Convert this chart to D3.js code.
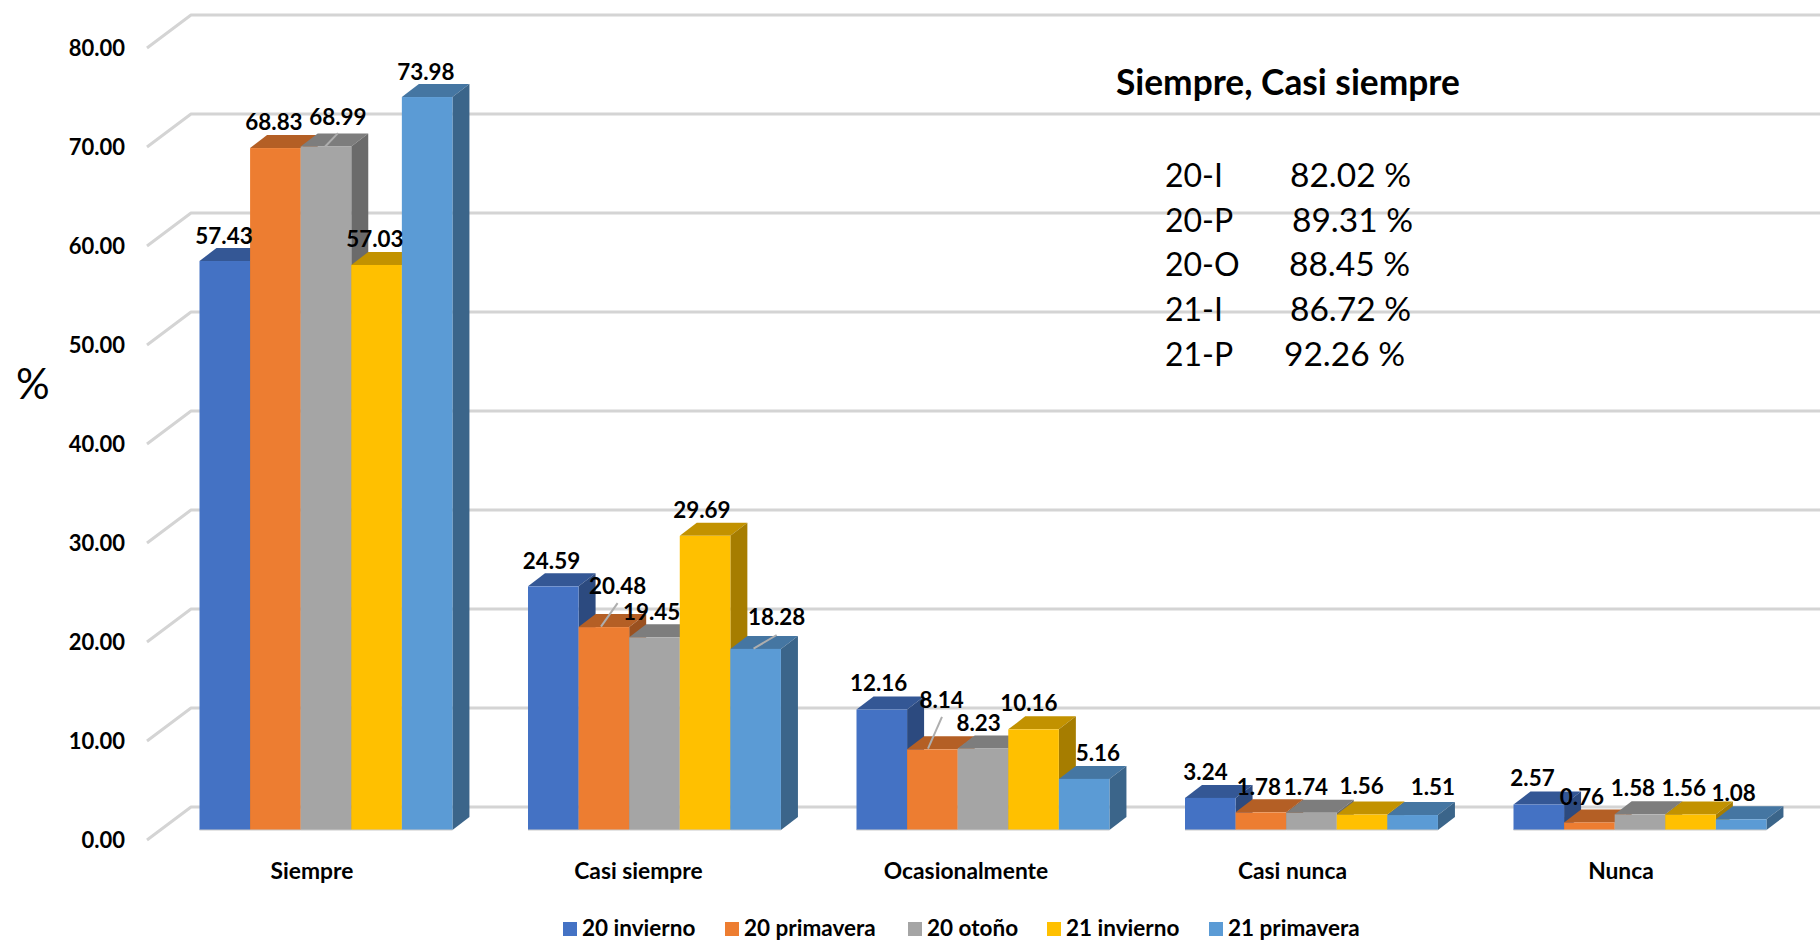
<!DOCTYPE html>
<html lang="es">
<head>
<meta charset="utf-8">
<script src="https://cdn.jsdelivr.net/npm/d3@7/dist/d3.min.js"></script>
<style>
html,body{margin:0;padding:0;background:#fff;overflow:hidden}
svg{display:block}
text{font-family:Lato,"Open Sans",sans-serif;fill:#000}
</style>
</head>
<body>
<svg id="chart" width="1820" height="940"></svg>
<script>
// ---- data ----
const categories = ["Siempre", "Casi siempre", "Ocasionalmente", "Casi nunca", "Nunca"];
const seriesNames = ["20 invierno", "20 primavera", "20 otoño", "21 invierno", "21 primavera"];
const invierno20 = [57.43, 24.59, 12.16, 3.24, 2.57];
const primavera20 = [68.83, 20.48, 8.14, 1.78, 0.76];
const otono20 = [68.99, 19.45, 8.23, 1.74, 1.58];
const invierno21 = [57.03, 29.69, 10.16, 1.56, 1.56];
const primavera21 = [73.98, 18.28, 5.16, 1.51, 1.08];
const seriesColors = ["#4472C4", "#ED7D31", "#A5A5A5", "#FFC000", "#5B9BD5"];
const yTicks = [0, 10, 20, 30, 40, 50, 60, 70, 80];
const noteTitle = "Siempre, Casi siempre";
const notePeriods = ["20-I", "20-P", "20-O", "21-I", "21-P"];
const noteValues = ["82.02 %", "89.31 %", "88.45 %", "86.72 %", "92.26 %"];
const seriesValues = [invierno20, primavera20, otono20, invierno21, primavera21];

// ---- layout ----
const svg = d3.select("#chart");
const depthX = 17, depthY = 13;
const yBar  = d3.scaleLinear().domain([0, 80]).range([830, 37.4]);   // front plane of the bars
const yWall = d3.scaleLinear().domain([0, 80]).range([807, 15]);     // back wall
const yAxis = d3.scaleLinear().domain([0, 80]).range([840, 48]);     // front edge of the side wall
const xGroup = d3.scaleBand().domain(categories).range([199.5, 199.5 + 328.5 * 4.77]).paddingInner(0.23).paddingOuter(0);
const xSeries = d3.scaleBand().domain(seriesNames).range([0, xGroup.bandwidth()]);

// hand-placed label offsets (dx, dy from the top centre of each bar), rows follow the series, columns the categories
const labelNudge = [
  [[-0.8,-25],[-1.8,-25.7],[-3.2,-26.2],[-4.8,-25.9],[-6.3,-26.2]],
  [[-1.4,-26],[13.7,-41.4],[9.3,-49.4],[-2.1,-25.7],[-7.4,-25.8]],
  [[12,-30],[-2.8,-25.3],[-4.3,-25.8],[-5.5,-26.1],[-7,-26]],
  [[-1.6,-26],[-3.1,-26],[-4.6,-26],[-0.5,-28.8],[-6.8,-26.2]],
  [[-1.2,-25],[21,-31.6],[13.8,-26.2],[20.3,-28.3],[-7.5,-26]]
];
// leader lines: [series, category, dx1, dy1, dx2, dy2] relative to bar top centre
const leaders = [
  [2, 0, 12, -13.4, -1, 0.3],
  [1, 1, 13.7, -24, -2.9, -0.4],
  [4, 1, 21, -13.9, -2.1, -0.2],
  [1, 2, 9.6, -32.4, -4.4, -0.7]
];

// ---- walls ----
const grid = svg.append("g").attr("fill", "none").attr("stroke", "#d4d4d4").attr("stroke-width", 3);
grid.selectAll("path").data(yTicks).join("path")
  .attr("d", t => d3.line()([[147, yAxis(t)], [191, yWall(t)], [1820, yWall(t)]]))
  .attr("stroke-linejoin", "round");

// ---- y axis ----
const axis = svg.append("g").attr("transform", "translate(125,0)")
  .call(d3.axisLeft(yAxis).tickValues(yTicks).tickFormat(d3.format(".2f")).tickSize(0).tickPadding(0));
axis.select(".domain").remove();
axis.selectAll("text").style("font-family", "Lato").style("font-weight", 700).style("font-size", "22px").attr("dy", "0.36em");

// ---- bars (left to right, so each bar hides the side of the one before) ----
const w = xSeries.bandwidth();
const bars = svg.append("g");
categories.forEach((cat, c) => {
  seriesNames.forEach((name, s) => {
    const v = seriesValues[s][c];
    const x0 = xGroup(cat) + xSeries(name), x1 = x0 + w;
    const y1 = yBar(v), y0 = yBar(0);
    const col = d3.rgb(seriesColors[s]);
    const shade = k => d3.rgb(col.r * k, col.g * k, col.b * k).formatHex();
    const g = bars.append("g");
    g.append("polygon").attr("fill", shade(0.76))
      .attr("points", [[x0, y1], [x0 + depthX, y1 - depthY], [x1 + depthX, y1 - depthY], [x1, y1]].join(" "));
    g.append("polygon").attr("fill", shade(0.65))
      .attr("points", [[x1, y1], [x1 + depthX, y1 - depthY], [x1 + depthX, y0 - depthY], [x1, y0]].join(" "));
    g.append("rect").attr("x", x0).attr("y", y1).attr("width", w).attr("height", y0 - y1).attr("fill", col.formatHex());
    g.append("line").attr("x1", x0).attr("x2", x1).attr("y1", y0).attr("y2", y0).attr("stroke", "#c9c9c9").attr("stroke-width", 1.2);
  });
});

// ---- leader lines ----
svg.append("g").attr("stroke", "#aeaeae").attr("stroke-width", 2).selectAll("line").data(leaders).join("line")
  .each(function (d) {
    const cx = xGroup(categories[d[1]]) + xSeries(seriesNames[d[0]]) + w / 2;
    const ty = yBar(seriesValues[d[0]][d[1]]);
    d3.select(this).attr("x1", cx + d[2]).attr("y1", ty + d[3]).attr("x2", cx + d[4]).attr("y2", ty + d[5]);
  });

// ---- value labels ----
const labels = svg.append("g").attr("text-anchor", "middle").attr("font-weight", 700).attr("font-size", 22.4);
categories.forEach((cat, c) => {
  seriesNames.forEach((name, s) => {
    const v = seriesValues[s][c];
    const cx = xGroup(cat) + xSeries(name) + w / 2;
    labels.append("text")
      .attr("x", cx + labelNudge[s][c][0])
      .attr("y", yBar(v) + labelNudge[s][c][1])
      .attr("dy", "0.36em")
      .text(v.toFixed(2));
  });
});

// ---- category labels ----
const catShift = [-14, -16, -17, -19, -19];
svg.append("g").attr("text-anchor", "middle").attr("font-weight", 700).attr("font-size", 22.8)
  .selectAll("text").data(categories).join("text")
  .attr("x", (d, i) => xGroup(d) + xGroup.bandwidth() / 2 + catShift[i])
  .attr("y", 879)
  .text(d => d);

// ---- legend ----
const legendX = [563, 725, 908, 1047, 1209];
const legend = svg.append("g").selectAll("g").data(seriesNames).join("g")
  .attr("transform", (d, i) => `translate(${legendX[i]},922)`);
legend.append("rect").attr("width", 14).attr("height", 14).attr("fill", (d, i) => seriesColors[i]);
legend.append("text").attr("x", 19).attr("y", 14).attr("font-weight", 700).attr("font-size", 22.5).text(d => d);

// ---- axis title and note ----
svg.append("text").attr("x", 16).attr("y", 399).attr("font-size", 42).text("%");
svg.append("text").attr("x", 1116).attr("y", 95).attr("font-weight", 700).attr("font-size", 35.3).text(noteTitle);
const noteBase = [187, 232, 276, 321, 366];
const noteValX = [1290, 1292, 1289, 1290, 1284];
svg.append("g").attr("font-size", 32).selectAll("text").data(notePeriods).join("text")
  .attr("x", 1165).attr("y", (d, i) => noteBase[i]).text(d => d);
svg.append("g").attr("font-size", 33.5).selectAll("text").data(noteValues).join("text")
  .attr("x", (d, i) => noteValX[i]).attr("y", (d, i) => noteBase[i]).text(d => d);
</script>
</body>
</html>
